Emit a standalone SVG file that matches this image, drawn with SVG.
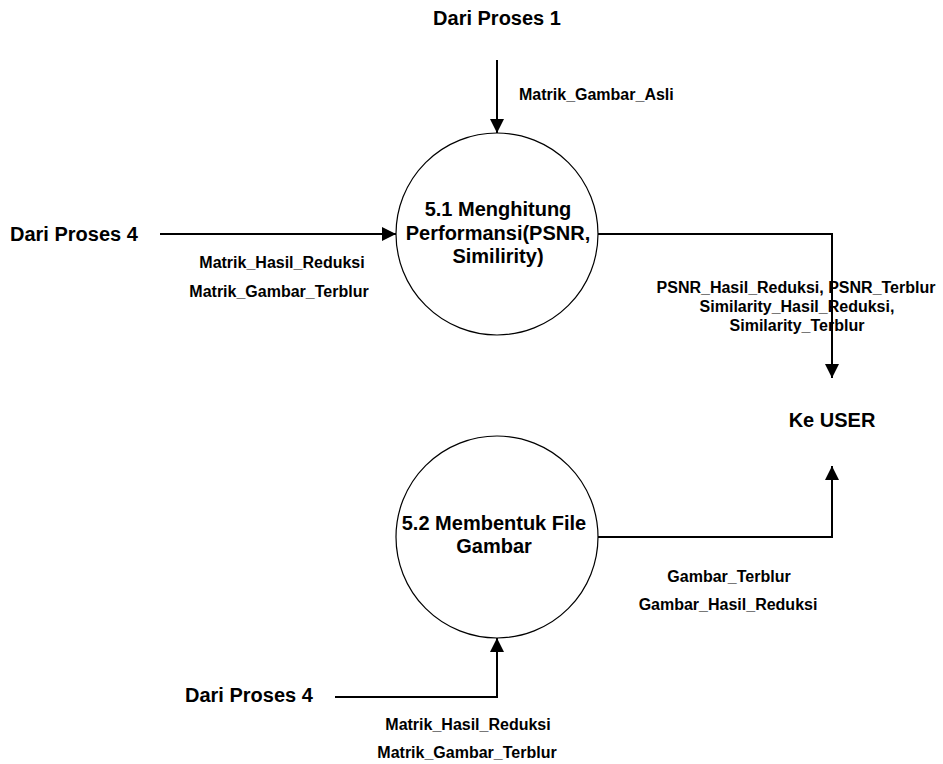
<svg xmlns="http://www.w3.org/2000/svg" width="943" height="764" viewBox="0 0 943 764">
  <style>
    text { font-family: "Liberation Sans", Arial, sans-serif; font-weight: bold; fill: #000; }
    .big { font-size: 20px; }
    .lbl { font-size: 16px; }
    .mid { text-anchor: middle; }
    .proc { fill: #fff; stroke: #000; stroke-width: 1.2; }
    .flow { fill: none; stroke: #000; stroke-width: 2; }
  </style>
  <defs>
    <marker id="arrow" markerUnits="userSpaceOnUse" markerWidth="15" markerHeight="15" refX="14" refY="7" orient="auto">
      <path d="M0,0 L14,7 L0,14 Z" fill="#000"/>
    </marker>
  </defs>
  <rect width="943" height="764" fill="#fff"/>

  <!-- data flows -->
  <g id="connectors">
    <line class="flow" x1="497" y1="60" x2="497" y2="133" marker-end="url(#arrow)"/>
    <line class="flow" x1="160" y1="234" x2="396" y2="234" marker-end="url(#arrow)"/>
    <polyline class="flow" points="598,234 832,234 832,378" marker-end="url(#arrow)"/>
    <polyline class="flow" points="598,537 832,537 832,466" marker-end="url(#arrow)"/>
    <polyline class="flow" points="335,697 497,697 497,638" marker-end="url(#arrow)"/>

    <text class="lbl" x="519" y="100">Matrik_Gambar_Asli</text>
    <text class="lbl mid" x="282" y="268">Matrik_Hasil_Reduksi</text>
    <text class="lbl mid" x="279" y="297">Matrik_Gambar_Terblur</text>
    <text class="lbl mid" x="796" y="293">PSNR_Hasil_Reduksi, PSNR_Terblur</text>
    <text class="lbl mid" x="797" y="312">Similarity_Hasil_Reduksi,</text>
    <text class="lbl mid" x="797" y="331">Similarity_Terblur</text>
    <text class="lbl mid" x="729" y="582">Gambar_Terblur</text>
    <text class="lbl mid" x="728" y="610">Gambar_Hasil_Reduksi</text>
    <text class="lbl mid" x="468" y="730">Matrik_Hasil_Reduksi</text>
    <text class="lbl mid" x="467" y="758">Matrik_Gambar_Terblur</text>
  </g>

  <!-- external sources / sinks -->
  <g id="src-proses1">
    <text class="big mid" x="497" y="25">Dari Proses 1</text>
  </g>
  <g id="src-proses4-a">
    <text class="big" x="10" y="241">Dari Proses 4</text>
  </g>
  <g id="src-proses4-b">
    <text class="big" x="185" y="702">Dari Proses 4</text>
  </g>
  <g id="sink-user">
    <text class="big mid" x="832" y="427">Ke USER</text>
  </g>

  <!-- processes -->
  <g id="proc-5-1">
    <circle class="proc" cx="497" cy="234" r="101"/>
    <text class="big mid" x="498" y="216">5.1 Menghitung</text>
    <text class="big mid" x="498" y="240">Performansi(PSNR,</text>
    <text class="big mid" x="498" y="263">Similirity)</text>
  </g>
  <g id="proc-5-2">
    <circle class="proc" cx="497" cy="537" r="101"/>
    <text class="big mid" x="494" y="530">5.2 Membentuk File</text>
    <text class="big mid" x="494" y="553">Gambar</text>
  </g>
</svg>
